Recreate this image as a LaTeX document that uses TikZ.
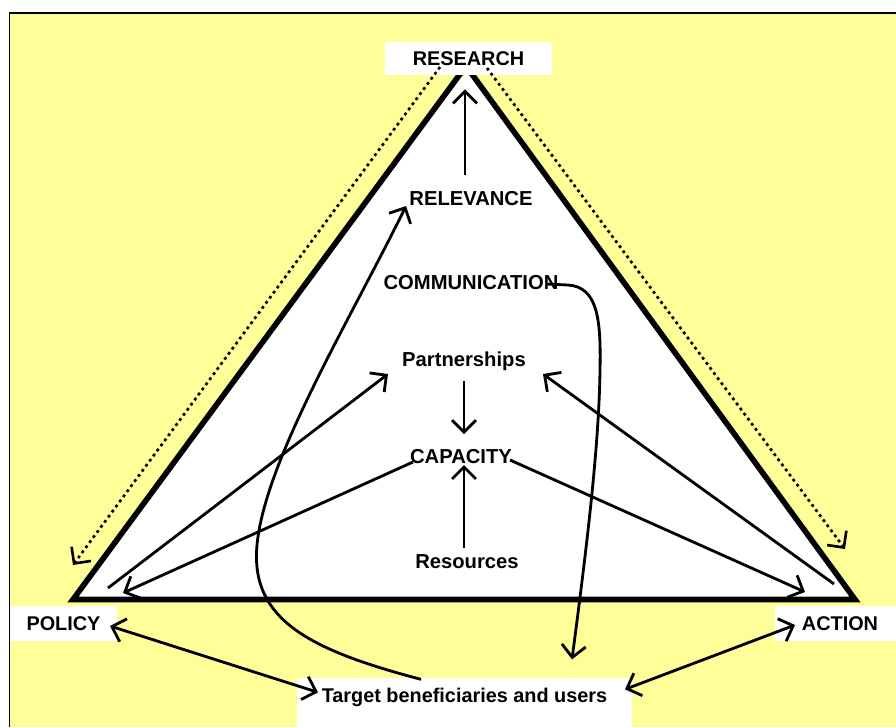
\documentclass[tikz,border=0pt]{standalone}
\usepackage{fontspec}
\setmainfont{Liberation Sans}
\usetikzlibrary{arrows.meta}
\definecolor{paleyellow}{RGB}{255,255,153}

\begin{document}
\begin{tikzpicture}[x=0.02cm, y=-0.02cm,
    term/.style={font=\fontsize{11.5}{13}\selectfont\bfseries, inner sep=1pt, anchor=base},
    box/.style={font=\fontsize{11.3}{13}\selectfont\bfseries, fill=white, inner sep=0pt},
    link/.style={line width=1.6pt, -{Straight Barb[length=2.4mm,width=4.8mm]}},
    twoway/.style={line width=1.6pt, {Straight Barb[length=2.4mm,width=4.8mm]}-{Straight Barb[length=2.4mm,width=4.8mm]}},
    dotlink/.style={link, dotted, line width=1.5pt}]

    \useasboundingbox (0,0) rectangle (896,727);

    % fondo
    \fill[paleyellow] (9.5,13.3) rectangle (896,727);
    \draw[line width=0.4mm] (9.5,727) -- (9.5,13.3) -- (896,13.3);

    % triangulo
    \coordinate (apex) at (466,66);
    \coordinate (cornerL) at (73,599.5);
    \coordinate (cornerR) at (855,599.5);
    \draw[fill=white, line width=3.2pt, line join=miter] (apex) -- (cornerL) -- (cornerR) -- cycle;

    \node[box, minimum width=3.34cm, minimum height=0.66cm] (research) at (468.5,58.5) {RESEARCH};
    \node[box, minimum width=2.14cm, minimum height=0.7cm] (policy) at (63.5,623.5) {POLICY};
    \node[box, minimum width=2.6cm, minimum height=0.7cm] (action) at (840,623.5) {ACTION};
    \node[box, minimum width=6.7cm, text height=0.48cm, text depth=1cm, anchor=north] (target) at (464.5,678) {Target beneficiaries and users};

    \node[term] (relevance) at (471,205) {RELEVANCE};
    \node[term] (communication) at (471,289) {COMMUNICATION};
    \node[term] (partnerships) at (464,366) {Partnerships};
    \node[term] (capacity) at (461,463) {CAPACITY};
    \node[term] (resources) at (467,568) {Resources};

    % flechas verticales
    \draw[link] ([shift={(-6,-30)}]relevance.base) -- ([shift={(-3.5,14)}]research.south);
    \draw[link] ([shift={(0,15)}]partnerships.base) -- ([shift={(3,-29)}]capacity.base);
    \draw[link] ([shift={(-3,-20)}]resources.base) -- ([shift={(3,2)}]capacity.base);

    % punteadas
    \draw[dotlink] ([shift={(-28.5,8.5)}]research.center) -- ([shift={(9.5,-58.5)}]policy.center);
    \draw[dotlink] ([shift={(18.5,9.5)}]research.center) -- ([shift={(5,-74.5)}]action.center);

    % diagonales
    \draw[link] ([shift={(44.5,-35.5)}]policy.center) -- ([shift={(-76,8)}]partnerships.base);
    \draw[link] ([shift={(-48,-1)}]capacity.base) -- ([shift={(59.5,-30.5)}]policy.center);
    \draw[link] ([shift={(-6,-39.5)}]action.center) -- ([shift={(79,8)}]partnerships.base);
    \draw[link] ([shift={(49,-3)}]capacity.base) -- ([shift={(-35,-31.5)}]action.center);

    \draw[twoway] ([shift={(-146.5,-10)}]target.base) -- ([shift={(46.5,2.5)}]policy.center);
    \draw[twoway] ([shift={(160.5,-13)}]target.base) -- ([shift={(-45,1.5)}]action.center);

    % curvas
    \draw[link] ([shift={(-43.5,-23)}]target.base) .. controls (310,650) and (250,620) .. (257,545)
        .. controls (265,460) and (350,320) .. ([shift={(-65,1)}]relevance.base);
    \draw[link] ([shift={(75,-5)}]communication.base) -- (568,285) .. controls (598,287) and (601,320) .. (600,370)
        .. controls (599,450) and (585,560) .. ([shift={(107.5,-43)}]target.base);

\end{tikzpicture}
\end{document}
